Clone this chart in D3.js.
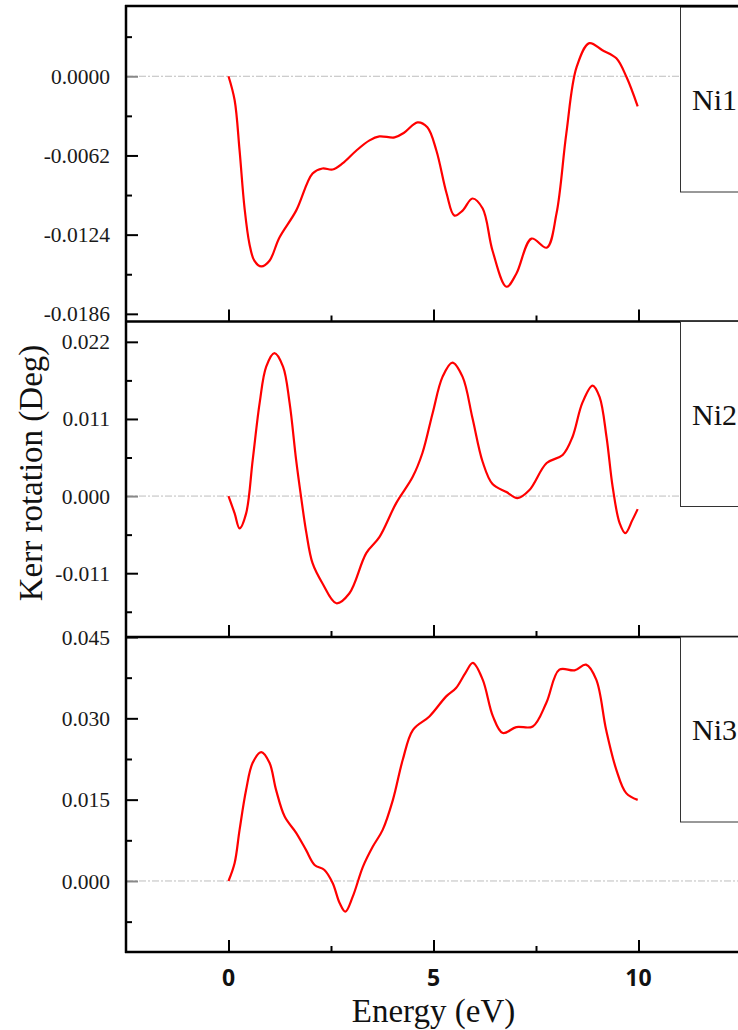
<!DOCTYPE html>
<html>
<head>
<meta charset="utf-8">
<script src="https://cdn.jsdelivr.net/npm/d3@7"></script>
<style>
  html, body { margin: 0; padding: 0; background: #fff; }
  svg { display: block; }
</style>
</head>
<body>
<svg id="chart" width="738" height="1030"></svg>
<script>
// Kerr rotation spectra of the three Ni sites
const panelNames = ["Ni1", "Ni2", "Ni3"];

const energyNi1 = [0, 0.15, 0.27, 0.39, 0.51, 0.63, 0.80, 1.00, 1.24, 1.65, 2.05, 2.29, 2.54, 2.78, 3.12, 3.44, 3.68, 4.05, 4.29, 4.61, 4.85, 5.07, 5.32, 5.51, 5.71, 5.95, 6.20, 6.44, 6.78, 7.02, 7.39, 7.76, 8.00, 8.24, 8.49, 8.80, 9.12, 9.46, 9.71, 9.98];
const kerrNi1 = [0, -0.00188, -0.00581, -0.01028, -0.01311, -0.01444, -0.01489, -0.01444, -0.01264, -0.01052, -0.00761, -0.00722, -0.00730, -0.00683, -0.00581, -0.00502, -0.00471, -0.00479, -0.00440, -0.00361, -0.00400, -0.00581, -0.00918, -0.01091, -0.01052, -0.00957, -0.01036, -0.01366, -0.01648, -0.01546, -0.01271, -0.01342, -0.01075, -0.00447, 0.00071, 0.00259, 0.00204, 0.00141, -0.00008, -0.00235];

const energyNi2 = [0, 0.15, 0.27, 0.43, 0.59, 0.76, 0.92, 1.12, 1.33, 1.49, 1.65, 1.77, 1.90, 2.05, 2.29, 2.63, 2.95, 3.36, 3.68, 4.09, 4.49, 4.73, 4.98, 5.22, 5.46, 5.71, 5.95, 6.20, 6.44, 6.78, 7.05, 7.34, 7.76, 8.15, 8.39, 8.63, 8.88, 9.05, 9.22, 9.37, 9.54, 9.68, 9.85, 9.98];
const kerrNi2 = [0, -0.00247, -0.00461, -0.00247, 0.00514, 0.01329, 0.01847, 0.02039, 0.01847, 0.01329, 0.00514, -0.00010, -0.00529, -0.00957, -0.01243, -0.01529, -0.01386, -0.00814, -0.00586, -0.00100, 0.00271, 0.00614, 0.01186, 0.01700, 0.01904, 0.01700, 0.01114, 0.00486, 0.00171, 0.00057, -0.00029, 0.00086, 0.00471, 0.00586, 0.00843, 0.01329, 0.01576, 0.01414, 0.00843, 0.00129, -0.00386, -0.00529, -0.00343, -0.00186];

const energyNi3 = [0, 0.15, 0.27, 0.43, 0.59, 0.80, 1.00, 1.16, 1.37, 1.65, 1.89, 2.10, 2.34, 2.54, 2.71, 2.85, 3.03, 3.28, 3.52, 3.76, 4.01, 4.25, 4.50, 4.90, 5.31, 5.55, 5.78, 5.96, 6.20, 6.45, 6.69, 7.02, 7.42, 7.75, 8.07, 8.44, 8.72, 8.97, 9.21, 9.46, 9.70, 9.98];
const kerrNi3 = [0, 0.00333, 0.00942, 0.01681, 0.02180, 0.02377, 0.02180, 0.01681, 0.01188, 0.00887, 0.00573, 0.00296, 0.00203, -0.00037, -0.00406, -0.00567, -0.00290, 0.00264, 0.00634, 0.00942, 0.01496, 0.02235, 0.02789, 0.03035, 0.03405, 0.03560, 0.03840, 0.04021, 0.03713, 0.03035, 0.02728, 0.02839, 0.02850, 0.03283, 0.03898, 0.03885, 0.03990, 0.03713, 0.02789, 0.02050, 0.01620, 0.01496];

// Axis ranges and tick values
const energyDomain = [-2.5, 12.5];
const energyMajorTicks = [0, 5, 10];
const energyMinorTicks = [2.5, 7.5];

const kerrDomains = [[-0.0192, 0.0055], [-0.0201, 0.0249], [-0.0131, 0.045]];
const kerrMajorTicks = [
  [0, -0.0062, -0.0124, -0.0186],
  [0.022, 0.011, 0, -0.011],
  [0.045, 0.030, 0.015, 0]
];
const kerrMinorTicks = [
  [0.0031, -0.0031, -0.0093, -0.0155],
  [0.0165, 0.0055, -0.0055, -0.0165],
  [0.0375, 0.0225, 0.0075, -0.0075]
];
const kerrTickDecimals = [4, 3, 3];

const series = [
  { energy: energyNi1, kerr: kerrNi1 },
  { energy: energyNi2, kerr: kerrNi2 },
  { energy: energyNi3, kerr: kerrNi3 }
];

const svg = d3.select("#chart");
const left = 126, right = 741;
const panelTops = [6, 321.5, 637];
const panelBottoms = [321.5, 637, 952];

const x = d3.scaleLinear().domain(energyDomain).range([left, right]);

const serif = "'Liberation Serif', 'Times New Roman', serif";

series.forEach((s, i) => {
  const top = panelTops[i], bottom = panelBottoms[i];
  const y = d3.scaleLinear().domain(kerrDomains[i]).range([bottom, top]);
  const g = svg.append("g");

  // zero reference line
  g.append("line")
    .attr("x1", left).attr("x2", 738)
    .attr("y1", y(0)).attr("y2", y(0))
    .attr("stroke", "#bdbdbd").attr("stroke-width", 1)
    .attr("stroke-dasharray", "7,2,2,2");

  // left axis: inward ticks
  const yAxis = d3.axisRight(y).tickValues(kerrMajorTicks[i]).tickSize(12).tickFormat("");
  const ya = g.append("g").attr("transform", `translate(${left},0)`).call(yAxis);
  ya.select(".domain").remove();
  ya.selectAll(".tick line").attr("stroke", d => d === 0 ? "#888" : "#000").attr("stroke-width", 2);

  const yMinor = d3.axisRight(y).tickValues(kerrMinorTicks[i]).tickSize(6).tickFormat("");
  const ym = g.append("g").attr("transform", `translate(${left},0)`).call(yMinor);
  ym.select(".domain").remove();
  ym.selectAll(".tick line").attr("stroke", "#000").attr("stroke-width", 2);

  // tick labels
  g.selectAll("text.ylab").data(kerrMajorTicks[i]).enter().append("text")
    .attr("class", "ylab")
    .attr("x", 110).attr("y", d => y(d))
    .attr("dy", "0.35em")
    .attr("text-anchor", "end")
    .attr("font-family", serif).attr("font-size", 21.5).attr("fill", "#1a1a1a")
    .text(d => d.toFixed(kerrTickDecimals[i]));

  // bottom axis: upward ticks
  const xAxis = d3.axisTop(x).tickValues(energyMajorTicks).tickSize(12).tickFormat("");
  const xa = g.append("g").attr("transform", `translate(0,${bottom})`).call(xAxis);
  xa.select(".domain").remove();
  xa.selectAll(".tick line").attr("stroke", "#000").attr("stroke-width", 2);
  const xMinor = d3.axisTop(x).tickValues(energyMinorTicks).tickSize(6).tickFormat("");
  const xm = g.append("g").attr("transform", `translate(0,${bottom})`).call(xMinor);
  xm.select(".domain").remove();
  xm.selectAll(".tick line").attr("stroke", "#000").attr("stroke-width", 2);

  g.append("line")
    .attr("x1", left - 1).attr("x2", 738)
    .attr("y1", bottom).attr("y2", bottom)
    .attr("stroke", "#000").attr("stroke-width", 2.5);

  // spectrum
  const line = d3.line()
    .x((d, k) => x(s.energy[k]))
    .y(d => y(d))
    .curve(d3.curveCatmullRom.alpha(0.5));
  g.append("path")
    .datum(s.kerr)
    .attr("d", line)
    .attr("fill", "none")
    .attr("stroke", "#ff0000")
    .attr("stroke-width", 2.2)
    .attr("stroke-linejoin", "round");

  // legend box
  const boxTop = i === 0 ? top + 1 : top;
  g.append("rect")
    .attr("x", 680.5).attr("y", boxTop)
    .attr("width", 80).attr("height", 185)
    .attr("fill", "#fff").attr("stroke", "#333").attr("stroke-width", 1);
  g.append("text")
    .attr("x", 692).attr("y", boxTop + 103)
    .attr("font-family", serif).attr("font-size", 30).attr("fill", "#111")
    .text(panelNames[i]);
});

// frame: top line and left spine
svg.append("line").attr("x1", left - 1).attr("x2", 738).attr("y1", panelTops[0]).attr("y2", panelTops[0])
  .attr("stroke", "#000").attr("stroke-width", 2.5);
svg.append("line").attr("x1", left).attr("x2", left).attr("y1", panelTops[0] - 1).attr("y2", 953)
  .attr("stroke", "#000").attr("stroke-width", 2.5);

// energy tick labels
svg.selectAll("text.xlab").data(energyMajorTicks).enter().append("text")
  .attr("class", "xlab")
  .attr("x", d => x(d)).attr("y", 986)
  .attr("text-anchor", "middle")
  .attr("font-family", "'Open Sans', sans-serif").attr("font-weight", 700)
  .attr("font-size", 23).attr("fill", "#111")
  .text(d => d);

// axis titles
svg.append("text")
  .attr("x", x(5)).attr("y", 1022)
  .attr("text-anchor", "middle")
  .attr("font-family", serif).attr("font-size", 33).attr("fill", "#111")
  .text("Energy (eV)");

svg.append("text")
  .attr("transform", "translate(42,473) rotate(-90)")
  .attr("text-anchor", "middle")
  .attr("font-family", serif).attr("font-size", 33).attr("fill", "#111")
  .text("Kerr rotation (Deg)");
</script>
</body>
</html>
